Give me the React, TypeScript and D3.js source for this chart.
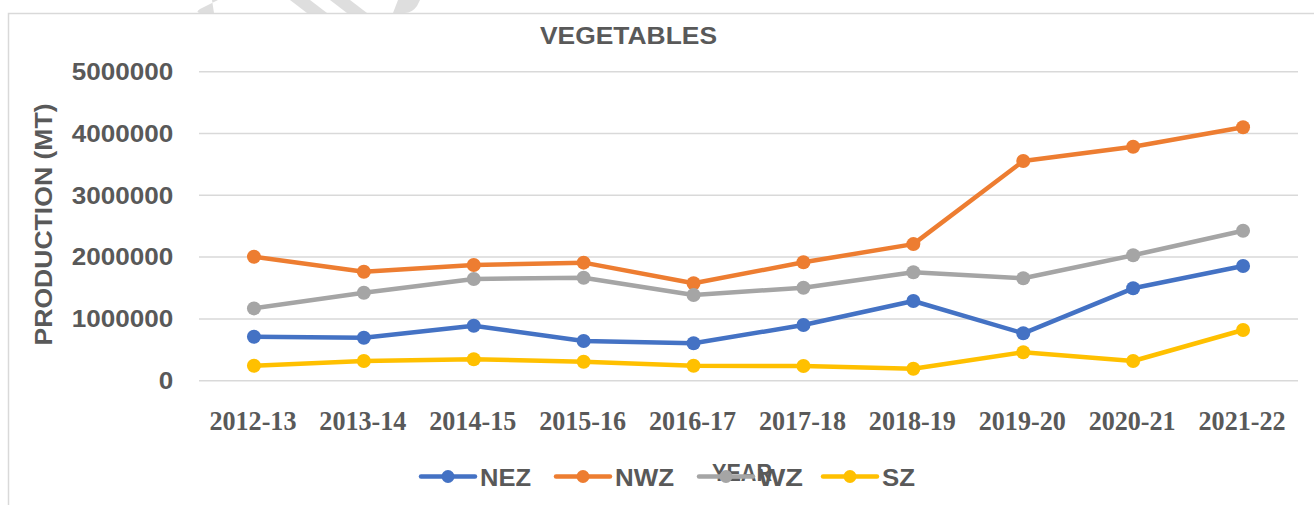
import React from 'react';
import * as d3 from 'd3';

// vegetables production by zone
const years = ['2012-13', '2013-14', '2014-15', '2015-16', '2016-17', '2017-18', '2018-19', '2019-20', '2020-21', '2021-22'];
const nez = [710000, 696000, 890000, 642000, 605000, 901000, 1290000, 767000, 1495000, 1856000];
const nwz = [2006000, 1764000, 1872000, 1910000, 1576000, 1916000, 2210000, 3555000, 3786000, 4100000];
const wz = [1170000, 1424000, 1646000, 1667000, 1387000, 1505000, 1754000, 1657000, 2029000, 2427000];
const sz = [243000, 319000, 346000, 307000, 243000, 238000, 194000, 460000, 319000, 820000];
const seriesNames = ['NEZ', 'NWZ', 'WZ', 'SZ'];
const seriesColors = ['#4472C4', '#ED7D31', '#A5A5A5', '#FFC000'];
const yTicks = [0, 1000000, 2000000, 3000000, 4000000, 5000000];

const W = 1314;
const H = 505;
const textColor = '#595959';
const sans = '"Liberation Sans", Arial, sans-serif';
const serif = '"Liberation Serif", "Times New Roman", serif';

const App = () => {
    const series = [nez, nwz, wz, sz];
    const x = d3.scalePoint<string>().domain(years).range([199, 1298]).padding(0.5);
    const y = d3.scaleLinear().domain([0, 5000000]).range([380.7, 71.7]);
    const line = d3.line<number>()
        .x((d, i) => x(years[i]) as number)
        .y(d => y(d));

    // legend item starts (line left edge)
    const legendX = [421, 556, 699, 823];
    const legendY = 476.5;

    return (
        <div style={{ position: 'absolute', left: 0, top: 0 }}>
            <svg width={W} height={H} style={{ display: 'block', background: '#fff' }}>
                {/* faint watermark stripes at the top */}
                <g fill="#dedede">
                    <path d="M212,0 L218,0 L200,9 Q195,12 200,13 L214,13 L214,13 Z" />
                    <path d="M290,0 L310,0 L327,13 L307,13 Z" />
                    <path d="M330,0 L350,0 L367,13 L347,13 Z" />
                    <path d="M398,0 L420,0 L417,6 Q412,13 405,13 L393,13 Z" />
                </g>
                {/* chart border */}
                <rect x={8.5} y={13.5} width={1400} height={600} fill="none" stroke="#d9d9d9" strokeWidth={1.5} />

                <text x={628.5} y={44.3} textAnchor="middle" fontFamily={sans} fontWeight="bold" fontSize={23.3}
                    fill={textColor} textLength={177} lengthAdjust="spacingAndGlyphs">VEGETABLES</text>

                {/* gridlines */}
                <g stroke="#d9d9d9" strokeWidth={1.5}>
                    {yTicks.map(t => (
                        <line key={t} x1={199} x2={1298} y1={y(t)} y2={y(t)} />
                    ))}
                </g>
                {/* y tick labels */}
                <g fontFamily={sans} fontWeight="bold" fontSize={23.3} fill={textColor} textAnchor="end">
                    {yTicks.map(t => {
                        const s = String(t);
                        return (
                            <text key={t} x={173.3} y={y(t) + 8.3} textLength={14.5 * s.length} lengthAdjust="spacingAndGlyphs">{s}</text>
                        );
                    })}
                </g>
                <text transform="translate(51.7,224.5) rotate(-90)" textAnchor="middle" fontFamily={sans} fontWeight="bold"
                    fontSize={23.3} fill={textColor} textLength={242} lengthAdjust="spacingAndGlyphs">PRODUCTION (MT)</text>

                {/* x labels */}
                <g fontFamily={serif} fontWeight="bold" fontSize={26.5} fill={textColor} textAnchor="middle">
                    {years.map(yr => (
                        <text key={yr} x={(x(yr) as number) - 1} y={430} textLength={87} lengthAdjust="spacingAndGlyphs">{yr}</text>
                    ))}
                </g>

                {/* series */}
                {series.map((vals, si) => (
                    <g key={seriesNames[si]}>
                        <path d={line(vals) as string} fill="none" stroke={seriesColors[si]} strokeWidth={4.5}
                            strokeLinejoin="round" strokeLinecap="round" />
                        {vals.map((v, i) => (
                            <circle key={i} cx={x(years[i])} cy={y(v)} r={7} fill={seriesColors[si]} />
                        ))}
                    </g>
                ))}

                {/* x axis title, overlapped by the legend as in the original */}
                <text x={742} y={481} textAnchor="middle" fontFamily={sans} fontWeight="bold" fontSize={24}
                    fill={textColor} textLength={60} lengthAdjust="spacingAndGlyphs">YEAR</text>

                {/* legend */}
                <g>
                    {seriesNames.map((name, i) => (
                        <g key={name} transform={`translate(${legendX[i]},${legendY})`}>
                            <line x1={0} x2={54} y1={0} y2={0} stroke={seriesColors[i]} strokeWidth={4.5} strokeLinecap="round" />
                            <circle cx={27} cy={0} r={6.5} fill={seriesColors[i]} />
                            <text x={59} y={9} fontFamily={sans} fontWeight="bold" fontSize={24} fill={textColor}
                                textLength={name === 'SZ' ? 33 : name === 'NEZ' ? 51 : name === 'NWZ' ? 59 : 45}
                                lengthAdjust="spacingAndGlyphs">{name}</text>
                        </g>
                    ))}
                </g>
            </svg>
        </div>
    );
};

export default App;
